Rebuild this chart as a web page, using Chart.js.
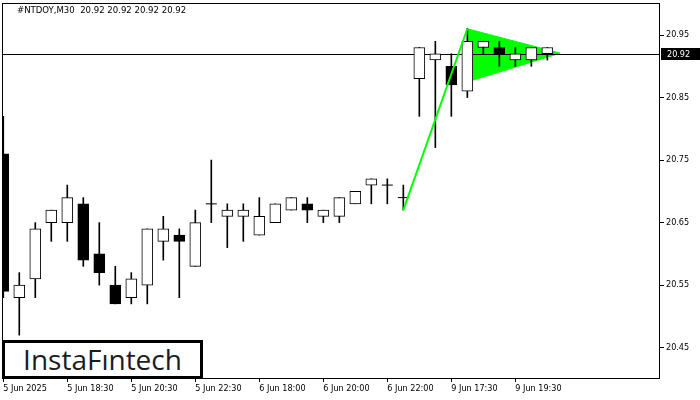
<!DOCTYPE html>
<html>
<head>
<meta charset="utf-8">
<script src="https://cdn.jsdelivr.net/npm/chart.js@4.4.1/dist/chart.umd.min.js"></script>
<style>
  html, body { margin: 0; padding: 0; background: #fff; }
  #wrap { position: relative; width: 700px; height: 400px; overflow: hidden; }
  #c { position: absolute; left: 0; top: 0; }
  #logo {
    position: absolute; left: 2px; top: 340px; width: 195px; height: 33px;
    border: 3px solid #000; background: #fff;
    font-family: "Open Sans", "Lato", sans-serif; font-weight: 500; font-size: 28px;
    color: #1c1c1c; line-height: 33px; text-align: center; letter-spacing: 0px;
  }
</style>
</head>
<body>
<div id="wrap">
  <canvas id="c" width="700" height="400"></canvas>
  <div id="logo">InstaFıntech</div>
</div>
<script>
// ---- data ----
const symbol = "#NTDOY,M30";
const categories = [
  "5 Jun 16:30","5 Jun 17:00","5 Jun 17:30","5 Jun 18:00","5 Jun 18:30","5 Jun 19:00","5 Jun 19:30",
  "5 Jun 20:00","5 Jun 20:30","5 Jun 21:00","5 Jun 21:30","5 Jun 22:00","5 Jun 22:30",
  "6 Jun 16:30","6 Jun 17:00","6 Jun 17:30","6 Jun 18:00","6 Jun 18:30","6 Jun 19:00","6 Jun 19:30",
  "6 Jun 20:00","6 Jun 20:30","6 Jun 21:00","6 Jun 21:30","6 Jun 22:00","6 Jun 22:30",
  "9 Jun 16:30","9 Jun 17:00","9 Jun 17:30","9 Jun 18:00","9 Jun 18:30","9 Jun 19:00","9 Jun 19:30",
  "9 Jun 20:00","9 Jun 20:30"
];
const openP  = [20.76,20.53,20.56,20.65,20.65,20.68,20.60,20.55,20.53,20.55,20.62,20.63,20.58,
                20.68,20.66,20.66,20.63,20.65,20.67,20.68,20.66,20.66,20.68,20.71,20.71,20.69,
                20.88,20.91,20.90,20.86,20.93,20.93,20.91,20.91,20.92];
const highP  = [20.82,20.57,20.65,20.67,20.71,20.69,20.65,20.58,20.57,20.64,20.66,20.64,20.67,
                20.75,20.68,20.68,20.69,20.68,20.69,20.69,20.67,20.69,20.70,20.72,20.72,20.71,
                20.93,20.94,20.92,20.96,20.94,20.94,20.93,20.93,20.93];
const lowP   = [20.53,20.47,20.53,20.62,20.62,20.58,20.55,20.52,20.52,20.52,20.59,20.53,20.58,
                20.65,20.61,20.62,20.63,20.65,20.67,20.65,20.65,20.65,20.68,20.68,20.68,20.67,
                20.82,20.77,20.82,20.85,20.92,20.90,20.90,20.90,20.91];
const closeP = [20.54,20.55,20.64,20.67,20.69,20.59,20.57,20.52,20.56,20.64,20.64,20.62,20.65,
                20.68,20.67,20.67,20.66,20.68,20.69,20.67,20.67,20.69,20.70,20.72,20.71,20.69,
                20.93,20.92,20.87,20.94,20.94,20.92,20.92,20.93,20.93];
const xTickLabels = ["5 Jun 2025","5 Jun 18:30","5 Jun 20:30","5 Jun 22:30","6 Jun 18:00",
                     "6 Jun 20:00","6 Jun 22:00","9 Jun 17:30","9 Jun 19:30"];
const xTickEvery = 4;
const yTicks = [20.45, 20.55, 20.65, 20.75, 20.85, 20.95];
const bidPrice = 20.92;
const lastBar = [20.92, 20.92, 20.92, 20.92];
const poleX = [25, 29];
const poleY = [20.67, 20.96];
const pennantX = [29, 34.8, 29];
const pennantY = [20.96, 20.921, 20.875];

// ---- derived datasets ----
const idx = categories.map((c, i) => i);
const bodyData = idx.map(i => ({ x: i, y: [Math.min(openP[i], closeP[i]), Math.max(openP[i], closeP[i])] }));
const bodyColors = idx.map(i => closeP[i] < openP[i] ? '#000000' : '#ffffff');
const wickData = idx.map(i => ({ x: i, y: [lowP[i], highP[i]] }));
const dojiData = idx.filter(i => openP[i] === closeP[i]).map(i => ({ x: i, y: openP[i] }));
const poleData = poleX.map((x, i) => ({ x: x, y: poleY[i] }));
const pennantData = pennantX.map((x, i) => ({ x: x, y: pennantY[i] }));

const FONT = 'Tahoma, "DejaVu Sans Condensed", "DejaVu Sans", sans-serif';

function noPad(s) { s.paddingLeft = 0; s.paddingRight = 0; s.paddingTop = 0; s.paddingBottom = 0; }

const overlay = {
  id: 'overlay',
  beforeDatasetDraw(chart, args) {
    if (args.meta.label !== 'wicks') return;
    const ctx = chart.ctx, a = chart.chartArea;
    const y = Math.round(chart.scales.y.getPixelForValue(bidPrice)) + 0.5;
    ctx.save();
    ctx.strokeStyle = '#000'; ctx.lineWidth = 1;
    ctx.beginPath(); ctx.moveTo(a.left, y); ctx.lineTo(a.right, y); ctx.stroke();
    ctx.restore();
  },
  afterDraw(chart) {
    const ctx = chart.ctx, a = chart.chartArea;
    ctx.save();
    ctx.strokeStyle = '#000'; ctx.lineWidth = 1;
    ctx.strokeRect(a.left + 0.5, a.top + 0.5, a.right - a.left - 1, a.bottom - a.top);
    // title
    ctx.fillStyle = '#000';
    ctx.font = '9.5px ' + FONT;
    ctx.textBaseline = 'middle'; ctx.textAlign = 'left';
    ctx.fillText(symbol + '  ' + lastBar.map(v => v.toFixed(2)).join(' '), 17, 11);
    // bid label
    ctx.font = '9px ' + FONT;
    const y = chart.scales.y.getPixelForValue(bidPrice);
    ctx.fillStyle = '#000';
    ctx.fillRect(a.right + 1, Math.round(y) - 6, 40, 12);
    ctx.fillStyle = '#fff';
    ctx.fillText(bidPrice.toFixed(2), a.right + 7, Math.round(y) + 0.5);
    ctx.restore();
  }
};

new Chart(document.getElementById('c'), {
  type: 'bar',
  data: {
    datasets: [
      { label: 'pole', type: 'line', data: poleData, borderColor: '#00ff00', borderWidth: 2,
        pointRadius: 0, fill: false, order: 0 },
      { label: 'bodies', data: bodyData, backgroundColor: bodyColors, borderColor: '#000',
        borderWidth: 1, borderSkipped: false, barThickness: 11, grouped: false, order: 1 },
      { label: 'dojis', type: 'line', data: dojiData, showLine: false, pointStyle: 'line',
        pointRadius: 5.5, borderColor: '#000', borderWidth: 1, order: 1 },
      { label: 'wicks', data: wickData, backgroundColor: '#000', borderWidth: 0,
        barThickness: 1, grouped: false, order: 2 },
      { label: 'pennant', type: 'line', data: pennantData, borderColor: '#00ff00', borderWidth: 1,
        backgroundColor: '#00ff00', pointRadius: 0, fill: 'shape', order: 4 }
    ]
  },
  options: {
    responsive: false,
    devicePixelRatio: 1,
    animation: false,
    layout: { autoPadding: false, padding: { left: 2, top: 3, right: 0, bottom: 0 } },
    plugins: { legend: { display: false }, tooltip: { enabled: false } },
    scales: {
      x: {
        type: 'linear', min: -0.08, max: 41.04, offset: false,
        afterBuildTicks(s) { s.ticks = idx.filter(i => i % xTickEvery === 0).map(v => ({ value: v })); },
        afterFit(s) { s.height = 22; noPad(s); },
        grid: { offset: false, drawOnChartArea: false, drawTicks: true, tickLength: 4, color: '#000' },
        border: { display: false },
        ticks: {
          autoSkip: false, maxRotation: 0, align: 'start', padding: 1, color: '#000',
          font: { family: FONT, size: 9 },
          callback: v => xTickLabels[v / xTickEvery] || ''
        }
      },
      y: {
        type: 'linear', position: 'right', min: 20.4015, max: 21.0012,
        afterBuildTicks(s) { s.ticks = yTicks.map(v => ({ value: v })); },
        afterFit(s) { s.width = 40; noPad(s); },
        grid: { drawOnChartArea: false, drawTicks: true, tickLength: 4, color: '#000' },
        border: { display: false },
        ticks: { padding: 2, color: '#000', font: { family: FONT, size: 9 },
          callback: v => Number(v).toFixed(2) }
      }
    }
  },
  plugins: [overlay]
});
</script>
</body>
</html>
